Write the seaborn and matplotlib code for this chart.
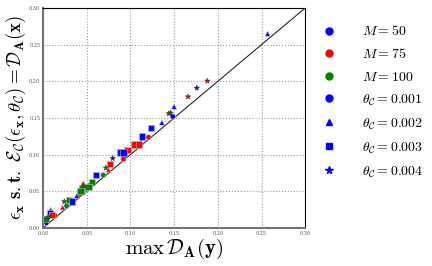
import matplotlib
matplotlib.use('Agg')
import matplotlib.pyplot as plt
from matplotlib.lines import Line2D
import seaborn as sns
import pandas as pd
import numpy as np

# Werte
max_da = [0.257, 0.188, 0.176, 0.166, 0.150, 0.144, 0.146, 0.1485, 0.136, 0.124,
          0.113, 0.1207, 0.104, 0.110, 0.112, 0.0966, 0.088, 0.092, 0.093, 0.092,
          0.0798, 0.0768, 0.072, 0.075, 0.069, 0.061, 0.0557, 0.052, 0.053, 0.046,
          0.048, 0.045, 0.043, 0.046, 0.044, 0.047, 0.042, 0.0386, 0.030, 0.033,
          0.027, 0.0244, 0.0225, 0.008, 0.0088, 0.010, 0.0137, 0.0034, 0.004, 0.006]
eps = [0.265, 0.2005, 0.191, 0.179, 0.1655, 0.156, 0.157, 0.152, 0.1437, 0.136,
       0.1246, 0.1237, 0.1137, 0.1137, 0.117, 0.106, 0.103, 0.103, 0.0964, 0.094,
       0.095, 0.0869, 0.082, 0.079, 0.072, 0.072, 0.063, 0.056, 0.058, 0.061,
       0.052, 0.055, 0.050, 0.048, 0.053, 0.057, 0.046, 0.0437, 0.038, 0.036,
       0.030, 0.036, 0.028, 0.020, 0.0245, 0.0177, 0.0168, 0.012, 0.007, 0.015]
m_vals = [50, 75, 50, 75, 50, 75, 100, 50, 50, 50,
          50, 75, 75, 75, 50, 75, 50, 50, 50, 75,
          50, 75, 100, 75, 100, 50, 100, 100, 100, 75,
          50, 100, 100, 100, 100, 100, 75, 50, 100, 50,
          100, 100, 75, 50, 50, 75, 75, 100, 50, 100]
theta_vals = [0.002, 0.004, 0.004, 0.004, 0.002, 0.004, 0.004, 0.001, 0.002, 0.003,
              0.003, 0.001, 0.003, 0.003, 0.002, 0.003, 0.003, 0.003, 0.001, 0.001,
              0.004, 0.003, 0.004, 0.002, 0.001, 0.003, 0.003, 0.003, 0.001, 0.002,
              0.001, 0.003, 0.003, 0.001, 0.002, 0.004, 0.001, 0.002, 0.003, 0.003,
              0.001, 0.004, 0.002, 0.003, 0.002, 0.003, 0.001, 0.003, 0.001, 0.004]

m_labels = [50, 75, 100]
theta_labels = [0.001, 0.002, 0.003, 0.004]
m_colors = {50: '#0000ff', 75: '#ff0000', 100: '#008000'}
theta_markers = {0.001: 'o', 0.002: '^', 0.003: 's', 0.004: '*'}
theta_sizes = {0.001: 14, 0.002: 14, 0.003: 20, 0.004: 16}
theta_edges = {0.001: '0.75', 0.002: '0.75', 0.003: '0.75', 0.004: '0.2'}

df = pd.DataFrame({'max_da': max_da, 'eps': eps, 'M': m_vals, 'theta': theta_vals})

plt.rcParams['mathtext.fontset'] = 'cm'
plt.rcParams['font.family'] = 'serif'
plt.rcParams['font.serif'] = ['DejaVu Serif']

fig = plt.figure(figsize=(4.32, 2.66), dpi=100)
ax = fig.add_axes([0.0995, 0.143, 0.607, 0.827])

# Diagonale
ax.plot([0, 0.3], [0, 0.3], color='0.15', lw=0.8, zorder=1)

for th in theta_labels:
    sub = df[df['theta'] == th]
    sns.scatterplot(data=sub, x='max_da', y='eps', hue='M', palette=m_colors,
                    marker=theta_markers[th], s=theta_sizes[th], edgecolor=theta_edges[th],
                    linewidth=0.4, legend=False, ax=ax, zorder=3)

ax.set_xlim(0, 0.3)
ax.set_ylim(0, 0.3)
ticks = np.arange(0, 0.31, 0.05)
ax.set_xticks(ticks)
ax.set_yticks(ticks)
ax.set_xticklabels([f'{t:.2f}' for t in ticks], fontsize=3.5, color='0.3')
ax.set_yticklabels([f'{t:.2f}' for t in ticks], fontsize=3.5, color='0.3')
ax.tick_params(length=0, pad=2)
ax.grid(True, linestyle=':', color='0.6', lw=0.8)
ax.set_axisbelow(True)
for side in ['left', 'bottom']:
    ax.spines[side].set_linewidth(1.5)
    ax.spines[side].set_color('0.45')
for side in ['top', 'right']:
    ax.spines[side].set_linewidth(0.8)
    ax.spines[side].set_color('black')

ax.set_xlabel(r'$\max\, \mathcal{D}_{\mathbf{A}}(\mathbf{y})$', fontsize=15, labelpad=1)
ax.set_ylabel(r'$\epsilon_{\mathbf{x}}\ \mathbf{s.t.}\ \mathcal{E}_{\mathcal{C}}(\epsilon_{\mathbf{x}},\theta_{\mathcal{C}}) = \mathcal{D}_{\mathbf{A}}(\mathbf{x})$',
              fontsize=13.5, labelpad=1)

handles = []
labels = []
for m in m_labels:
    handles.append(Line2D([], [], marker='o', ls='', color=m_colors[m], markersize=5))
    labels.append(f'$M = {m}$')
for th in theta_labels:
    handles.append(Line2D([], [], marker=theta_markers[th], ls='', color='#0000ff',
                          markersize=5 if th != 0.004 else 5.5))
    labels.append(r'$\theta_{\mathcal{C}} = ' + f'{th}' + '$')
fig.legend(handles, labels, loc='upper left', bbox_to_anchor=(0.72, 0.955),
           frameon=False, fontsize=10, handlelength=0.8, handletextpad=2.0,
           labelspacing=0.62)

fig.savefig('out.png', dpi=100)
